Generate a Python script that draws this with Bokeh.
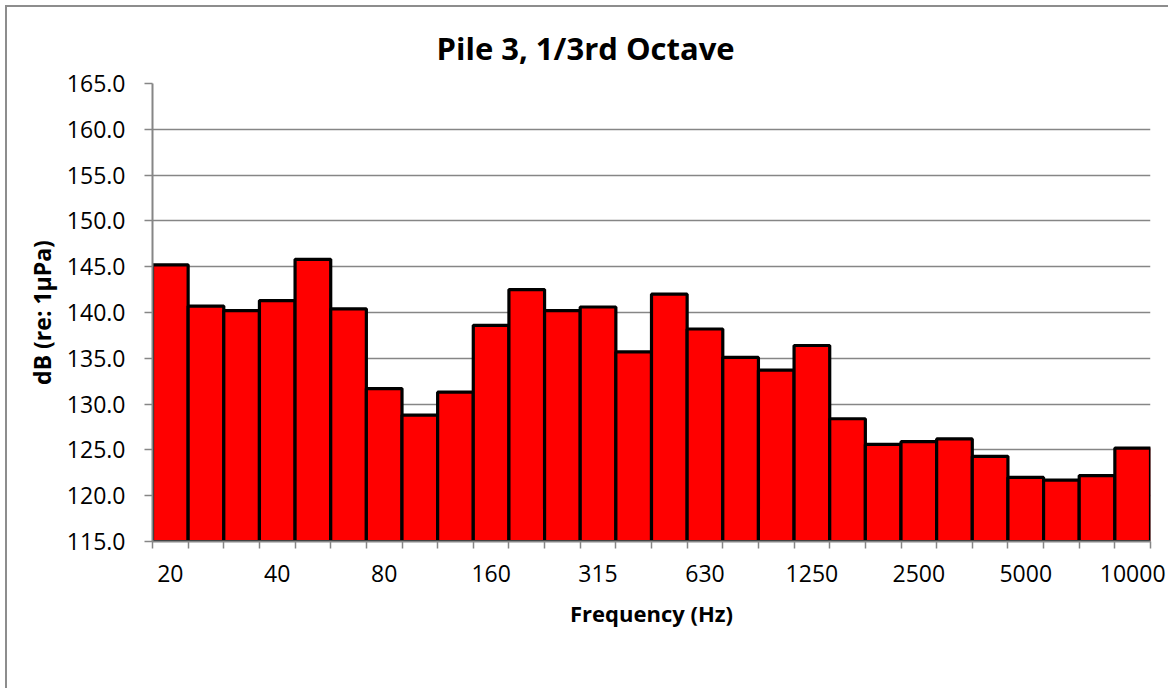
from bokeh.plotting import figure
from bokeh.models import FixedTicker, Range1d, NumeralTickFormatter, ColumnDataSource
from bokeh.embed import file_html
from bokeh.resources import INLINE

freqs = ["20", "25", "31.5", "40", "50", "63", "80", "100", "125", "160",
         "200", "250", "315", "400", "500", "630", "800", "1000", "1250", "1600",
         "2000", "2500", "3150", "4000", "5000", "6300", "8000", "10000"]
levels = [145.2, 140.7, 140.2, 141.3, 145.8, 140.4, 131.7, 128.8, 131.3, 138.6,
          142.5, 140.2, 140.6, 135.7, 142.0, 138.2, 135.1, 133.7, 136.4, 128.4,
          125.6, 125.9, 126.2, 124.3, 122.0, 121.7, 122.2, 125.2]
y_min, y_max, y_step = 115, 165, 5
label_every = 3

FONT = "Open Sans"
GREY = "#868686"

n = len(freqs)
xs = [i + 0.5 for i in range(n)]
src = ColumnDataSource(dict(x=xs, top=levels, freq=freqs))

p = figure(width=1161, height=681, output_backend="svg", toolbar_location=None,
           x_range=Range1d(0, n), y_range=Range1d(y_min, y_max),
           min_border_left=145, min_border_right=18, min_border_top=76, min_border_bottom=147)
p.styles = {"margin-left": "7px", "margin-top": "7px",
            "box-shadow": "-1px -1px 0 1px #8d8d8d"}
p.outline_line_color = None
p.background_fill_color = "white"
p.border_fill_color = "white"

p.vbar(x="x", top="top", bottom=y_min, width=1.0, source=src,
       fill_color="#FF0000", line_color="black", line_width=3.2)

# Title
p.title.text = "Pile 3, 1/3rd Octave"
p.title.align = "left"
p.title.offset = 284
p.title.text_font = FONT
p.title.text_font_style = "bold"
p.title.text_font_size = "31px"
p.title.text_color = "black"
p.title.standoff = 30

# X axis
major = [xs[i] for i in range(0, n, label_every)]
p.xaxis.ticker = FixedTicker(ticks=major, minor_ticks=list(range(0, n + 1)))
p.xaxis.major_label_overrides = {xs[i]: freqs[i] for i in range(0, n, label_every)}
p.xaxis.major_tick_out = 0
p.xaxis.major_tick_in = 0
p.xaxis.minor_tick_out = 7
p.xaxis.minor_tick_in = 0
p.xaxis.minor_tick_line_color = GREY
p.xaxis.minor_tick_line_width = 1.5
p.xaxis.axis_line_color = GREY
p.xaxis.axis_line_width = 2
p.xaxis.major_label_text_font = FONT
p.xaxis.major_label_text_font_size = "23px"
p.xaxis.major_label_text_color = "black"
p.xaxis.major_label_standoff = 16
p.xaxis.axis_label = "Frequency (Hz)"
p.xaxis.axis_label_text_font = FONT
p.xaxis.axis_label_text_font_style = "bold"
p.xaxis.axis_label_text_font_size = "22px"
p.xaxis.axis_label_text_color = "black"
p.xaxis.axis_label_standoff = 13

# Y axis
p.yaxis.ticker = FixedTicker(ticks=list(range(y_min, y_max + 1, y_step)), minor_ticks=[])
p.yaxis.formatter = NumeralTickFormatter(format="0.0")
p.yaxis.major_tick_out = 8
p.yaxis.major_tick_in = 0
p.yaxis.major_tick_line_color = GREY
p.yaxis.major_tick_line_width = 1.5
p.yaxis.minor_tick_line_color = None
p.yaxis.axis_line_color = GREY
p.yaxis.axis_line_width = 2
p.yaxis.major_label_text_font = FONT
p.yaxis.major_label_text_font_size = "23px"
p.yaxis.major_label_text_color = "black"
p.yaxis.major_label_standoff = 19
p.yaxis.axis_label = "dB (re: 1µPa)"
p.yaxis.axis_label_text_font = FONT
p.yaxis.axis_label_text_font_style = "bold"
p.yaxis.axis_label_text_font_size = "23px"
p.yaxis.axis_label_text_color = "black"
p.yaxis.axis_label_standoff = 6

p.xgrid.grid_line_color = None
p.ygrid.grid_line_color = GREY
p.ygrid.grid_line_width = 1.5

open("out.html", "w").write(file_html(p, INLINE))
